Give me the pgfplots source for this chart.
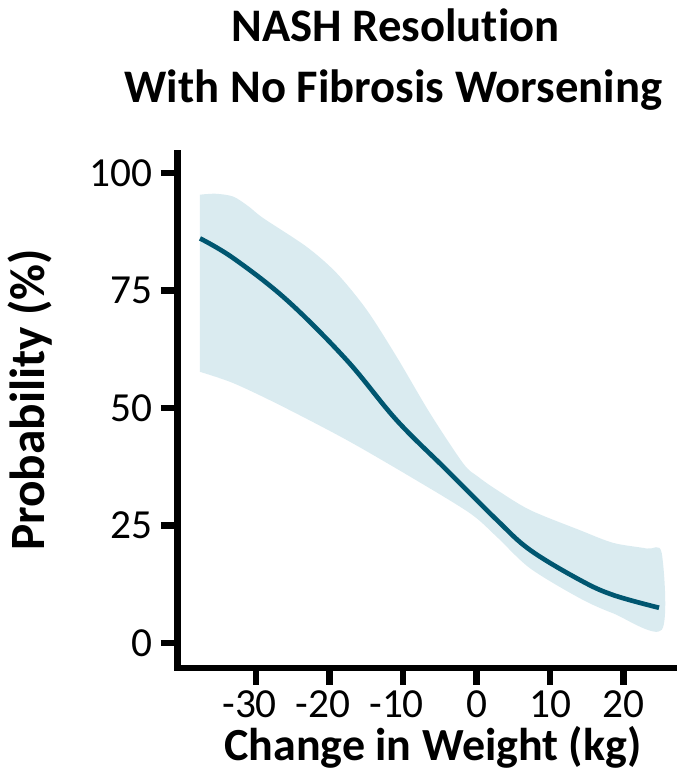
\documentclass[border=0pt]{standalone}
\usepackage{pgfplots}
\pgfplotsset{compat=1.18}
\usepackage{fontspec}
\setmainfont{Carlito}[Ligatures=NoCommon]
\definecolor{lineteal}{HTML}{005670}
\definecolor{bandblue}{HTML}{DAEBF0}
\begin{document}
\begin{tikzpicture}
\begin{axis}[
  at={(0,0)}, anchor=south west,
  scale only axis,
  width=372.2pt, height=386pt,
  xmin=-40.68, xmax=26.83, ymin=-5.32, ymax=104.2,
  axis x line*=bottom, axis y line*=left,
  axis line style={-, line width=5pt, black, line cap=rect},
  xtick={-30,-20,-10,0,10,20},
  xticklabels={\llap{-}30,\llap{-}20,\llap{-}10,0,10,20},
  ytick={0,25,50,75,100},
  yticklabels={0,25,50,75,100},
  tick align=outside,
  major tick length=12.5pt,
  tick style={line width=5pt, black},
  ticklabel style={font=\fontsize{31}{37}\selectfont},
  xticklabel style={anchor=base, inner sep=0pt, yshift=-24.5pt},
  yticklabel style={anchor=east, inner sep=0pt, xshift=-6pt},
]
\addplot[fill=bandblue, draw=none, smooth, tension=0.5] coordinates {
(-37.62,95.4) (-35.5,95.6) (-33.1,95.0) (-31.0,92.9) (-29.0,90.4) (-23.1,84.3)
(-19.02,78.7) (-14.94,70.9) (-10.86,60.9) (-6.33,48.9) (-1.8,38.2) (0.2,35.4)
(2.75,32.6) (7.28,28.3) (14.08,24.0) (18.61,21.3) (23.16,20.1) (25.2,19.1)
(25.2,2.8) (18.61,6.3) (14.08,9.5) (7.28,15.9) (2.75,22.6) (-0.88,27.6)
(-8.6,35.0) (-17.66,43.2) (-26.73,50.6) (-33.09,55.3) (-37.62,57.7)} -- cycle;
\addplot[lineteal, line width=3.5pt, smooth, tension=0.6] coordinates {
(-37.62,86.1) (-33.09,81.9) (-25.82,73.0) (-17.66,60.2) (-10.86,47.4) (-4.05,36.8)
(2.75,26.2) (7.28,19.8) (14.08,13.4) (18.61,10.2) (24.83,7.5)};
\end{axis}
\node[font=\bfseries\fontsize{37}{44}\selectfont, rotate=90, anchor=base, inner sep=0pt] at (-99.4pt,201pt) {Probability (\%)};
\node[font=\bfseries\fontsize{34.5}{41}\selectfont, anchor=base, inner sep=0pt] at (191.6pt,-69.5pt) {Change in Weight (kg)};
\node[font=\bfseries\fontsize{35}{42}\selectfont, anchor=base, inner sep=0pt] at (163.5pt,469.5pt) {NASH Resolution};
\node[font=\bfseries\fontsize{35}{42}\selectfont, anchor=base, inner sep=0pt] at (162pt,423.75pt) {With No Fibrosis Worsening};
\pgfresetboundingbox
\useasboundingbox (-133.1pt,-78pt) rectangle (374.6pt,501pt);
\end{tikzpicture}
\end{document}
